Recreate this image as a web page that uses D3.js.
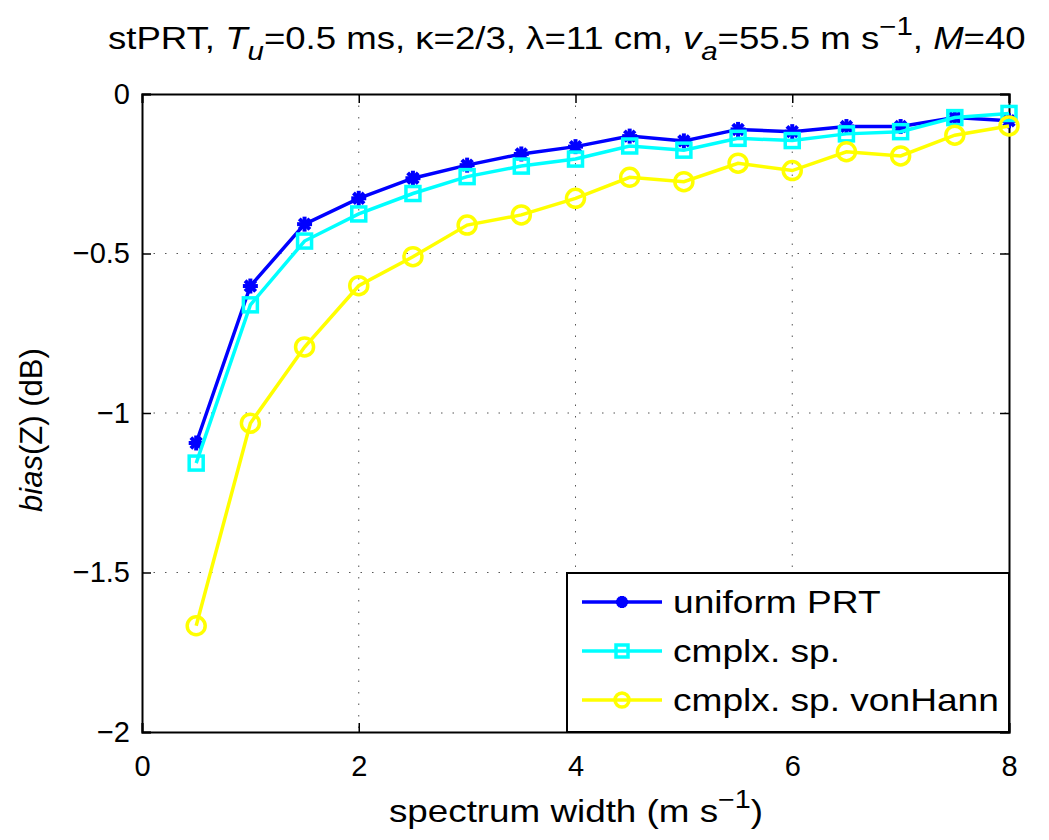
<!DOCTYPE html>
<html><head><meta charset="utf-8">
<script src="https://cdn.jsdelivr.net/npm/d3@7"></script>
<style>body{margin:0;background:#fff}svg{font-family:"Liberation Sans",Arial,sans-serif}</style>
</head><body><svg id="c" width="1049" height="840"></svg>
<script>
const xs = [0.5,1,1.5,2,2.5,3,3.5,4,4.5,5,5.5,6,6.5,7,7.5,8];
const uniformPRT = [-1.094,-0.602,-0.408,-0.327,-0.264,-0.223,-0.188,-0.165,-0.132,-0.147,-0.111,-0.118,-0.102,-0.102,-0.074,-0.084];
const cmplxSp = [-1.157,-0.661,-0.461,-0.376,-0.312,-0.259,-0.226,-0.204,-0.163,-0.176,-0.139,-0.146,-0.125,-0.118,-0.074,-0.061];
const cmplxSpVonHann = [-1.667,-1.032,-0.793,-0.601,-0.51,-0.411,-0.379,-0.327,-0.261,-0.275,-0.217,-0.240,-0.181,-0.194,-0.129,-0.100];
const xTicks = [0,2,4,6,8];
const yTicks = [0,-0.5,-1,-1.5,-2];
const seriesNames = ["uniform PRT","cmplx. sp.","cmplx. sp. vonHann"];

const svg = d3.select("#c");
const L=142,R=1009,T=94,B=732;
const x = d3.scaleLinear().domain([0,8]).range([L,R]);
const y = d3.scaleLinear().domain([-2,0]).range([B,T]);
const fmt = v => v===0 ? "0" : String(v).replace("-","\u2212");

// grid
const g = svg.append("g");
xTicks.slice(1,-1).forEach(t=>g.append("line").attr("x1",x(t)).attr("x2",x(t)).attr("y1",T).attr("y2",B)
  .attr("stroke","#555").attr("stroke-width",1).attr("stroke-dasharray","1.5,10"));
yTicks.slice(1,-1).forEach(t=>g.append("line").attr("y1",y(t)).attr("y2",y(t)).attr("x1",L).attr("x2",R)
  .attr("stroke","#555").attr("stroke-width",1).attr("stroke-dasharray","1.5,10"));

// axes with inward ticks
const ax = d3.axisBottom(x).tickValues(xTicks).tickFormat(fmt).tickSize(-9).tickPadding(23);
const axT = d3.axisTop(x).tickValues(xTicks).tickFormat("").tickSize(-9);
const ay = d3.axisLeft(y).tickValues(yTicks).tickFormat(fmt).tickSize(-9).tickPadding(12);
const ayR = d3.axisRight(y).tickValues(yTicks).tickFormat("").tickSize(-9);
function style(sel){sel.selectAll("path").attr("stroke","#000").attr("stroke-width",2);
  sel.selectAll("line").attr("stroke","#000").attr("stroke-width",1.5);
  sel.selectAll("text").attr("font-size",29).attr("fill","#000").attr("font-family","Liberation Sans, Arial, sans-serif");}
svg.append("g").attr("transform",`translate(0,${B})`).call(ax).call(style);
svg.append("g").attr("transform",`translate(0,${T})`).call(axT).call(style);
svg.append("g").attr("transform",`translate(${L},0)`).call(ay).call(style);
svg.append("g").attr("transform",`translate(${R},0)`).call(ayR).call(style);

const line = d3.line().x((d,i)=>x(xs[i])).y(d=>y(d));
const colors = ["#0000ff","#00ffff","#ffff00"];
const data = [uniformPRT,cmplxSp,cmplxSpVonHann];

function marker(sel,k,cx,cy,c,s){
  if(k===0){
    const r=s;
    [0,45,90,135].forEach(a=>{const rad=a*Math.PI/180;
      sel.append("line").attr("x1",cx-r*Math.cos(rad)).attr("y1",cy-r*Math.sin(rad))
        .attr("x2",cx+r*Math.cos(rad)).attr("y2",cy+r*Math.sin(rad)).attr("stroke",c).attr("stroke-width",4);});
  } else if(k===1){
    sel.append("rect").attr("x",cx-s).attr("y",cy-s).attr("width",2*s).attr("height",2*s)
      .attr("fill","none").attr("stroke",c).attr("stroke-width",3.5);
  } else {
    sel.append("circle").attr("cx",cx).attr("cy",cy).attr("r",s).attr("fill","none").attr("stroke",c).attr("stroke-width",3.5);
  }
}
const sizes=[7.5,7,9];
data.forEach((arr,k)=>{
  const gg=svg.append("g");
  gg.append("path").datum(arr).attr("d",line).attr("fill","none").attr("stroke",colors[k]).attr("stroke-width",3.5);
  arr.forEach((v,i)=>marker(gg,k,x(xs[i]),y(v),colors[k],sizes[k]));
});

// scaled text helper
function stext(px,py,sx,rot,size,anchor){
  return svg.append("g").attr("transform",`translate(${px},${py}) rotate(${rot}) scale(${sx},1)`)
    .append("text").attr("font-size",size).attr("text-anchor",anchor).attr("fill","#000");
}

// legend
const lg = svg.append("g");
lg.append("rect").attr("x",567).attr("y",573).attr("width",R-567).attr("height",B-573)
  .attr("fill","#fff").attr("stroke","#000").attr("stroke-width",2);
seriesNames.forEach((n,k)=>{
  const yy=602+k*49;
  lg.append("line").attr("x1",582).attr("x2",662).attr("y1",yy).attr("y2",yy).attr("stroke",colors[k]).attr("stroke-width",3.5);
  marker(lg,k,622,yy,colors[k],k===2?7:6);
  stext(673,yy+11,1.16,0,32,"start").text(n);
});

// title
const title = stext(108,49,1.18,0,31,"start");
title.append("tspan").text("stPRT, ");
title.append("tspan").attr("font-style","italic").text("T");
title.append("tspan").attr("font-style","italic").attr("dy",11).attr("font-size",25).text("u");
title.append("tspan").attr("dy",-11).text("=0.5 ms, \u03ba=2/3, \u03bb=11 cm, ");
title.append("tspan").attr("font-style","italic").text("v");
title.append("tspan").attr("font-style","italic").attr("dy",11).attr("font-size",25).text("a");
title.append("tspan").attr("dy",-11).text("=55.5 m s");
title.append("tspan").attr("dy",-14).attr("font-size",25).text("\u22121");
title.append("tspan").attr("dy",14).text(", ");
title.append("tspan").attr("font-style","italic").text("M");
title.append("tspan").text("=40");

// x label
const xl = stext(576,822,1.15,0,32,"middle");
xl.append("tspan").text("spectrum width (m s");
xl.append("tspan").attr("dy",-14).attr("font-size",25).text("\u22121");
xl.append("tspan").attr("dy",14).text(")");

// y label
const yl = stext(42,512,0.97,-90,32,"start");
yl.append("tspan").attr("font-style","italic").text("bias");
yl.append("tspan").text("(Z) (dB)");
</script></body></html>
